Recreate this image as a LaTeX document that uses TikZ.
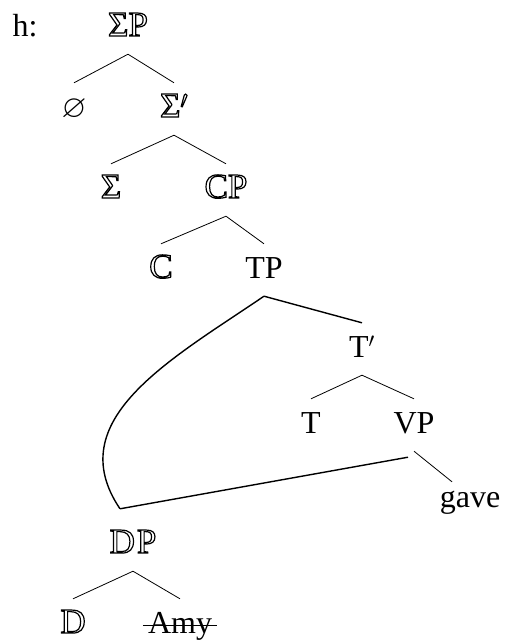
\documentclass[tikz,border=0pt]{standalone}
\usepackage{amssymb}
\usepackage{fontspec}
\setmainfont{Liberation Serif}
\newcommand{\hol}[1]{{\fontsize{35}{40}\selectfont\special{pdf:literal direct 1 Tr 1.2 w}#1\special{pdf:literal direct 0 Tr}}}
\begin{document}
\begin{tikzpicture}[x=1pt,y=-1pt,
  lab/.style={anchor=base,inner xsep=5pt,inner ysep=12pt,text height=22pt,text depth=6pt,font=\fontsize{32}{38}\selectfont},
  br/.style={line width=.8pt},
  mv/.style={line width=1.4pt}]
  \useasboundingbox (0,0) rectangle (507,640);
  \node[lab] (ex) at (25,36) {h:};
  \node[lab] (sp) at (128,36) {\hol{ΣP}};
  \node[lab] (nul) at (74,117) {$\varnothing$};
  \node[lab] (sb) at (174,117) {\hol{Σ$'$}};
  \node[lab] (sg) at (111,198) {\hol{Σ}};
  \node[lab] (cp) at (226,198) {\hol{CP}};
  \node[lab] (c) at (161,278) {\hol{C}};
  \node[lab] (tp) at (264,278) {TP};
  \node[lab] (tb) at (362,357) {T$'$};
  \node[lab] (t) at (311,433) {T};
  \node[lab] (vp) at (414,433) {VP};
  \node[lab] (gave) at (470,507) {gave};
  \node[lab] (dp) at (133,553) {\hol{D\kern2pt P}};
  \node[lab] (d) at (73,633) {\hol{D}};
  \node[lab] (amy) at (180,633) {Amy};
  \coordinate (dpm) at ([xshift=-13pt,yshift=10pt]dp.north);
  % tree
  \draw[br] (sp.south) -- (nul.north);
  \draw[br] (sp.south) -- (sb.north);
  \draw[br] (sb.south) -- (sg.north);
  \draw[br] (sb.south) -- (cp.north);
  \draw[br] (cp.south) -- (c.north);
  \draw[br] (cp.south) -- (tp.north);
  \draw[mv] (tp.south) -- (tb.north);
  \draw[br] (tb.south) -- (t.north);
  \draw[br] (tb.south) -- (vp.north);
  \draw[br] (vp.south) -- ([xshift=-18pt,yshift=-9pt]gave.north);
  \draw[br] (dp.south) -- (d.north);
  \draw[br] (dp.south) -- (amy.north);
  % DP shared by TP and VP
  \draw[mv] (tp.south) .. controls (170,360) and (60,420) .. (dpm);
  \draw[mv] (dpm) -- ([xshift=-6pt,yshift=-6pt]vp.south);
  \draw[br] ([yshift=8pt]amy.base west) -- ([yshift=8pt]amy.base east);
\end{tikzpicture}
\end{document}
